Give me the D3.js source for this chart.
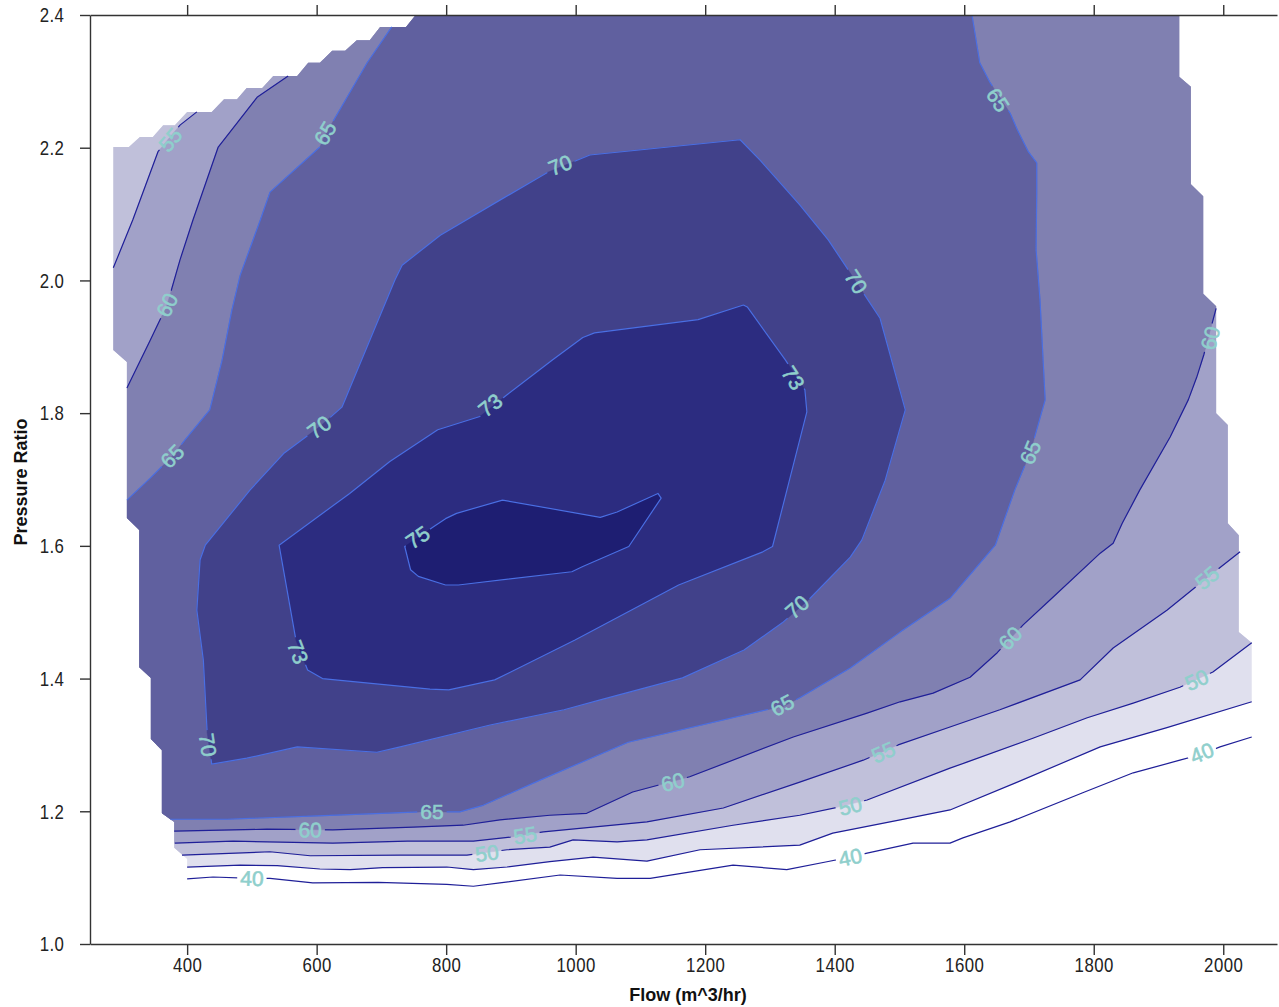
<!DOCTYPE html>
<html>
<head>
<meta charset="utf-8">
<script src="https://cdn.jsdelivr.net/npm/d3@7"></script>
<style>
  body { margin: 0; background: #fff; }
  svg { display: block; }
</style>
</head>
<body>
<svg id="chart" width="1279" height="1007"></svg>
<script>
// ---- axes ----
const flowExtent = [250, 2083];
const prExtent = [1.0, 2.4];
const flowTicks = [400, 600, 800, 1000, 1200, 1400, 1600, 1800, 2000];
const prTicks = [1.0, 1.2, 1.4, 1.6, 1.8, 2.0, 2.2, 2.4];

// ---- efficiency levels (%) ----
const levels = [40, 45, 50, 55, 60, 65, 70, 73, 75];

// measured region of the map [flow, pressure ratio]
const domainEdge = [
  [286,2.201],[310,2.201],[327,2.216],[347,2.216],[363,2.234],[381,2.234],[400,2.254],[438,2.254],
  [457,2.273],[477,2.273],[492,2.290],[516,2.290],[533,2.308],[570,2.308],[587,2.328],[605,2.328],
  [624,2.346],[644,2.346],[662,2.362],[682,2.362],[698,2.382],[738,2.382],[753,2.400],[1932,2.400],
  [1932,2.307],[1950,2.292],[1950,2.145],[1969,2.127],[1969,1.980],[1989,1.961],[1989,1.800],
  [2007,1.782],[2007,1.634],[2024,1.616],[2024,1.470],[2044,1.454],[2044,1.066],[400,1.066],
  [400,1.128],[380,1.145],[380,1.184],[361,1.197],[361,1.292],[344,1.309],[344,1.401],[326,1.417],
  [326,1.624],[307,1.642],[307,1.877],[286,1.895]
];

// iso-efficiency lines [flow, pressure ratio]
const contour40 = [
  [400,1.098],[440,1.101],[500,1.099],[528,1.099],[594,1.092],[695,1.093],[801,1.090],[842,1.087],
  [883,1.092],[976,1.104],[1064,1.099],[1115,1.099],[1243,1.119],[1326,1.112],[1388,1.124],
  [1424,1.131],[1450,1.137],[1521,1.152],[1578,1.152],[1598,1.160],[1671,1.184],[1783,1.228],
  [1861,1.258],[1933,1.277],[1967,1.286],[1995,1.297],[2044,1.312]
];
const contour45 = [
  [400,1.116],[482,1.119],[539,1.118],[605,1.113],[652,1.112],[702,1.115],[801,1.116],[842,1.112],
  [894,1.116],[960,1.124],[1027,1.131],[1110,1.125],[1192,1.142],[1346,1.149],[1397,1.167],
  [1501,1.187],[1578,1.202],[1682,1.244],[1810,1.297],[1913,1.326],[2044,1.365]
];
const contour50 = [
  [392,1.134],[528,1.139],[590,1.133],[729,1.134],[832,1.134],[894,1.142],[960,1.146],[996,1.157],
  [1064,1.154],[1110,1.157],[1243,1.179],[1346,1.194],[1404,1.206],[1450,1.217],[1578,1.265],
  [1604,1.274],[1706,1.310],[1790,1.341],[1861,1.363],[1933,1.387],[1984,1.410],[2044,1.454]
];
const contour55Lower = [
  [381,1.152],[471,1.155],[625,1.152],[740,1.155],[842,1.155],[899,1.161],[950,1.169],[1110,1.184],
  [1228,1.205],[1346,1.244],[1444,1.277],[1498,1.300],[1578,1.327],[1655,1.353],[1779,1.398],
  [1830,1.446],[1913,1.503],[1975,1.552],[2026,1.591]
];
const contour55Upper = [
  [286,2.019],[316,2.091],[355,2.194],[370,2.212],[389,2.234],[415,2.254]
];
const contour60Lower = [
  [380,1.170],[523,1.173],[625,1.172],[749,1.176],[826,1.179],[883,1.187],[960,1.194],[1017,1.197],
  [1088,1.229],[1176,1.252],[1336,1.312],[1450,1.348],[1501,1.365],[1552,1.378],[1609,1.402],
  [1651,1.439],[1691,1.481],[1732,1.518],[1810,1.589],[1830,1.604],[1844,1.634],[1871,1.684],
  [1918,1.764],[1946,1.820],[1959,1.854],[1970,1.888],[1980,1.925],[1989,1.958]
];
const contour60Upper = [
  [307,1.838],[343,1.910],[369,1.963],[389,2.031],[409,2.091],[448,2.201],[508,2.276],[556,2.308]
];
const contour65Lower = [
  [374,1.188],[462,1.188],[601,1.193],[760,1.199],[821,1.199],[857,1.209],[945,1.247],[1081,1.304],
  [1295,1.353],[1319,1.357],[1346,1.371],[1424,1.416],[1501,1.470],[1578,1.521],[1648,1.601],
  [1678,1.684],[1702,1.741],[1725,1.820],[1717,1.971],[1711,2.046],[1712,2.136],[1712,2.177],
  [1699,2.194],[1682,2.227],[1671,2.252],[1640,2.298],[1624,2.328],[1612,2.400]
];
const contour65Upper = [
  [307,1.669],[343,1.702],[377,1.735],[397,1.760],[435,1.805],[454,1.880],[469,1.955],[482,2.008],
  [513,2.091],[528,2.133],[605,2.201],[613,2.219],[647,2.276],[678,2.328],[716,2.382]
];
const contour70 = [
  [721,2.001],[732,2.023],[791,2.068],[883,2.121],[957,2.163],[1022,2.189],[1254,2.212],[1285,2.181],
  [1346,2.114],[1390,2.061],[1416,2.023],[1451,1.971],[1470,1.943],[1509,1.805],[1478,1.699],
  [1442,1.609],[1424,1.583],[1359,1.518],[1319,1.484],[1260,1.443],[1165,1.401],[1038,1.368],
  [982,1.353],[868,1.330],[729,1.297],[693,1.289],[570,1.297],[492,1.280],[438,1.271],[431,1.318],
  [425,1.428],[415,1.503],[420,1.579],[428,1.601],[497,1.684],[550,1.740],[604,1.779],[639,1.809]
];
const contour73 = [
  [542,1.601],[651,1.679],[713,1.727],[787,1.775],[852,1.795],[893,1.827],[964,1.880],[1011,1.914],
  [1029,1.921],[1189,1.941],[1259,1.963],[1265,1.960],[1324,1.880],[1354,1.835],[1357,1.802],
  [1304,1.599],[1289,1.591],[1159,1.541],[999,1.458],[875,1.398],[804,1.383],[775,1.384],
  [609,1.400],[586,1.413],[568,1.458]
];
const contour75 = [
  [736,1.599],[745,1.564],[757,1.554],[799,1.541],[819,1.541],[994,1.561],[1011,1.569],[1082,1.599],
  [1132,1.672],[1127,1.679],[1064,1.651],[1038,1.643],[887,1.669],[816,1.649],[799,1.641],[781,1.629]
];

// inline labels: [level, flow, pressure ratio]
const contourLabels = [
  [55,374,2.212],[65,613,2.222],[70,976,2.174],[65,1652,2.272],[70,1433,1.998],[73,1336,1.853],
  [60,369,1.963],[60,1980,1.913],[73,868,1.812],[70,604,1.779],[65,377,1.735],[65,1702,1.741],
  [75,756,1.613],[55,1975,1.552],[70,1342,1.508],[60,1671,1.461],[73,571,1.440],[50,1959,1.398],
  [65,1319,1.360],[70,432,1.300],[55,1475,1.289],[40,1967,1.288],[60,1150,1.244],[50,1424,1.208],
  [65,778,1.199],[60,590,1.172],[55,922,1.164],[50,863,1.137],[40,500,1.099],[40,1424,1.131]
];

// ---- drawing ----
const W = 1279, H = 1007;
const svg = d3.select("#chart");
const x = d3.scaleLinear().domain(flowExtent).range([90, 1277]);
const y = d3.scaleLinear().domain(prExtent).range([944, 15]);
const P = d => [x(d[0]), y(d[1])];

const bandFill = { 45: "#e0e0ee", 50: "#c0c0da", 55: "#a1a1c8", 60: "#8080b1", 65: "#60609f", 70: "#41418a", 73: "#2c2c80", 75: "#1e1e72" };
const lineColor = lv => lv >= 65 ? "#4a6fe3" : "#1f1f98";

const defs = svg.append("defs");
defs.append("clipPath").attr("id", "mapArea")
  .append("path").attr("d", "M" + domainEdge.map(P).join("L") + "Z");

const L = -40, R = W + 40, T = -40;
const first = a => a[0], last = a => a[a.length - 1];

// region above an open line running left to right
function above(line) {
  const p = line.map(P);
  return [...p, [R, last(p)[1]], [R, T], [L, T], [L, first(p)[1]]];
}
// region between a lower line (left -> right/top) and an upper line (left -> top)
function between(lower, upper, rightOpen) {
  const lo = lower.map(P), up = upper.map(P);
  const out = [...lo];
  if (rightOpen) out.push([R, last(lo)[1]], [R, T]);
  else out.push([last(lo)[0], T]);
  out.push([last(up)[0], T], ...up.slice().reverse(), [L, first(up)[1]], [L, first(lo)[1]]);
  return out;
}

const regions = [
  { lv: 45, pts: above(contour45) },
  { lv: 50, pts: above(contour50) },
  { lv: 55, pts: between(contour55Lower, contour55Upper, true) },
  { lv: 60, pts: between(contour60Lower, contour60Upper, true) },
  { lv: 65, pts: between(contour65Lower, contour65Upper, false) },
  { lv: 70, pts: contour70.map(P) },
  { lv: 73, pts: contour73.map(P) },
  { lv: 75, pts: contour75.map(P) }
];

const fills = svg.append("g").attr("clip-path", "url(#mapArea)");
fills.selectAll("path").data(regions).join("path")
  .attr("d", r => "M" + r.pts.join("L") + "Z")
  .attr("fill", r => bandFill[r.lv])
  .attr("stroke", r => bandFill[r.lv])
  .attr("stroke-width", 0.5);

const pieces = [
  { lv: 40, pts: contour40, closed: false },
  { lv: 45, pts: contour45, closed: false },
  { lv: 50, pts: contour50, closed: false },
  { lv: 55, pts: contour55Lower, closed: false },
  { lv: 55, pts: contour55Upper, closed: false },
  { lv: 60, pts: contour60Lower, closed: false },
  { lv: 60, pts: contour60Upper, closed: false },
  { lv: 65, pts: contour65Lower, closed: false },
  { lv: 65, pts: contour65Upper, closed: false },
  { lv: 70, pts: contour70, closed: true },
  { lv: 73, pts: contour73, closed: true },
  { lv: 75, pts: contour75, closed: true }
];

const mask = defs.append("mask").attr("id", "labelGaps").attr("maskUnits", "userSpaceOnUse")
  .attr("x", 0).attr("y", 0).attr("width", W).attr("height", H);
mask.append("rect").attr("width", W).attr("height", H).attr("fill", "#fff");

const lineGen = d3.line().x(d => x(d[0])).y(d => y(d[1]));
svg.append("g").attr("mask", "url(#labelGaps)")
  .selectAll("path").data(pieces).join("path")
  .attr("d", p => lineGen(p.pts) + (p.closed ? "Z" : ""))
  .attr("fill", "none")
  .attr("stroke", p => lineColor(p.lv))
  .attr("stroke-width", 1.2)
  .attr("stroke-linejoin", "round");

// label orientation follows the nearest segment of its own line
function labelAngle(lv, px, py) {
  let best = Infinity, ang = 0;
  pieces.filter(p => p.lv === lv).forEach(p => {
    const pts = p.pts.map(P);
    if (p.closed) pts.push(pts[0]);
    for (let i = 0; i < pts.length - 1; i++) {
      const [x1, y1] = pts[i], [x2, y2] = pts[i + 1];
      const dx = x2 - x1, dy = y2 - y1;
      const len2 = dx * dx + dy * dy || 1;
      const t = Math.max(0, Math.min(1, ((px - x1) * dx + (py - y1) * dy) / len2));
      const qx = x1 + t * dx - px, qy = y1 + t * dy - py;
      const d = qx * qx + qy * qy;
      if (d < best) { best = d; ang = Math.atan2(dy, dx) * 180 / Math.PI; }
    }
  });
  if (ang > 90) ang -= 180;
  if (ang <= -90) ang += 180;
  return ang;
}

const labelG = svg.append("g");
contourLabels.forEach(([lv, f, pr]) => {
  const px = x(f), py = y(pr), a = labelAngle(lv, px, py);
  const t = labelG.append("text")
    .attr("transform", `translate(${px},${py}) rotate(${a})`)
    .attr("text-anchor", "middle")
    .attr("dominant-baseline", "central")
    .attr("font-family", "'Liberation Sans', Arial, sans-serif")
    .attr("font-size", 21)
    .attr("fill", "#8fcfcc")
    .attr("stroke", "#8fcfcc")
    .attr("stroke-width", 0.6)
    .text(lv);
  const w = t.node().getComputedTextLength() + 6;
  mask.append("rect")
    .attr("x", -w / 2).attr("y", -8).attr("width", w).attr("height", 16)
    .attr("transform", `translate(${px},${py}) rotate(${a})`)
    .attr("fill", "#000");
});

// ---- axes ----
const tickFont = "'Liberation Sans', Arial, sans-serif";
function styleAxis(g) {
  g.attr("font-family", tickFont).attr("font-size", 21);
  g.selectAll("path.domain").attr("stroke", "#333").attr("stroke-width", 1.4);
  g.selectAll(".tick line").attr("stroke", "#333").attr("stroke-width", 1.4);
  g.selectAll(".tick text").attr("fill", "#222").attr("letter-spacing", "0.6px");
}

const xAxisG = svg.append("g").attr("transform", "translate(0,944)")
  .call(d3.axisBottom(x).tickValues(flowTicks).tickSize(11).tickSizeOuter(0).tickPadding(2).tickFormat(d3.format("d")))
  .call(styleAxis);
xAxisG.selectAll(".tick text").attr("transform", "scale(0.8,1)");

svg.append("g").attr("transform", "translate(0,15)")
  .call(d3.axisTop(x).tickValues(flowTicks).tickSize(10).tickSizeOuter(0).tickFormat(""))
  .call(styleAxis);

const yAxisG = svg.append("g").attr("transform", "translate(90,0)")
  .call(d3.axisLeft(y).tickValues(prTicks).tickSize(10).tickSizeOuter(0).tickPadding(22).tickFormat(d3.format(".1f")))
  .call(styleAxis);
yAxisG.selectAll(".tick text").attr("transform", "scale(0.8,1)");

svg.append("text")
  .attr("x", 688).attr("y", 1001)
  .attr("text-anchor", "middle")
  .attr("font-family", "'Liberation Sans', Arial, sans-serif")
  .attr("font-weight", "bold").attr("font-size", 18).attr("fill", "#111")
  .text("Flow (m^3/hr)");
svg.append("text")
  .attr("transform", "translate(27,482) rotate(-90)")
  .attr("text-anchor", "middle")
  .attr("font-family", "'Liberation Sans', Arial, sans-serif")
  .attr("font-weight", "bold").attr("font-size", 18).attr("fill", "#111")
  .text("Pressure Ratio");
</script>
</body>
</html>
